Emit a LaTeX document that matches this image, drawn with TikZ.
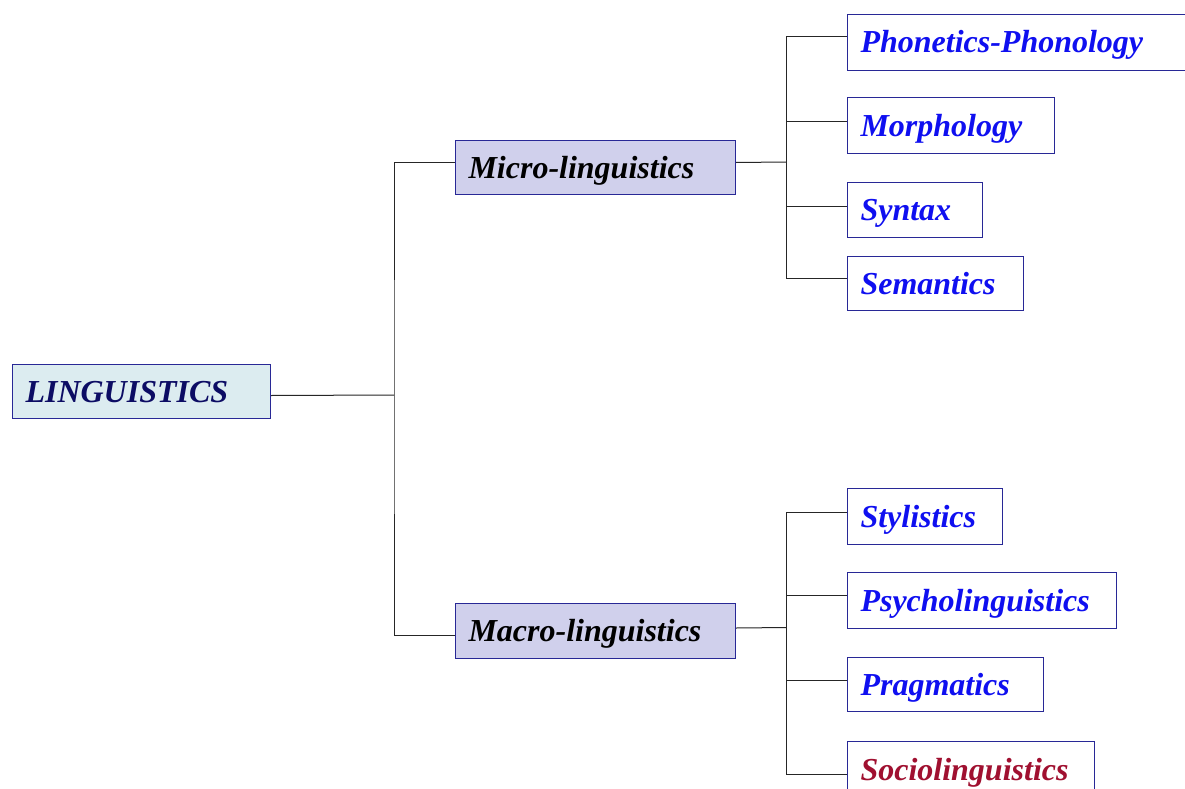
\documentclass[tikz,border=0pt]{standalone}
\usepackage{fontspec}
\setmainfont{Liberation Serif}
\definecolor{boxline}{RGB}{40,40,150}
\definecolor{lingfill}{RGB}{220,236,240}
\definecolor{midfill}{RGB}{208,208,236}
\definecolor{lingtext}{RGB}{12,12,100}
\definecolor{leaftext}{RGB}{15,15,240}
\definecolor{sociotext}{RGB}{160,16,48}
\begin{document}
\begin{tikzpicture}[x=1pt,y=-1pt,
  box/.style={draw=boxline,line width=1pt,anchor=north west,inner xsep=13pt,inner ysep=0pt,
    text height=22pt,text depth=1pt,
    align=left,font=\fontsize{32}{36}\selectfont\bfseries\itshape},
  leaf/.style={box,fill=white,text=leaftext},
  mid/.style={box,fill=midfill,text=black},
  conn/.style={draw=black!85,line width=1pt}]
\clip (0,0) rectangle (1185,789);
\fill[white] (0,0) rectangle (1185,789);
% root
\node[box,fill=lingfill,text=lingtext,minimum width=258pt,minimum height=54pt,text width=232pt] (ling) at (12,364) {LINGUISTICS};
% middle
\node[mid,minimum width=280pt,minimum height=54pt,text width=254pt] (micro) at (455,140) {Micro-linguistics};
\node[mid,minimum width=280pt,minimum height=55pt,text width=254pt] (macro) at (455,603) {Macro-linguistics};
% leaves
\node[leaf,minimum width=345pt,minimum height=56pt,text width=319pt] (phon) at (847,14) {Phonetics-Phonology};
\node[leaf,minimum width=207pt,minimum height=56pt,text width=181pt] (morph) at (847,97) {Morphology};
\node[leaf,minimum width=135pt,minimum height=55pt,text width=109pt] (syn) at (847,182) {Syntax};
\node[leaf,minimum width=176pt,minimum height=54pt,text width=150pt] (sem) at (847,256) {Semantics};
\node[leaf,minimum width=155pt,minimum height=56pt,text width=129pt] (sty) at (847,488) {Stylistics};
\node[leaf,minimum width=269pt,minimum height=56pt,text width=243pt] (psy) at (847,572) {Psycholinguistics};
\node[leaf,minimum width=196pt,minimum height=54pt,text width=170pt] (prag) at (847,657) {Pragmatics};
\node[leaf,text=sociotext,minimum width=247pt,minimum height=56pt,text width=221pt] (soc) at (847,741) {Sociolinguistics};
% junctions
\coordinate (j1) at (394,395);
\coordinate (j2) at (786,162);
\coordinate (j3) at (786,627.5);
% connectors
\draw[conn] ([yshift=-4pt]ling.east) -- (j1);
\draw[conn] ([yshift=5pt]micro.west) -| (j1) |- ([yshift=-4pt]macro.west);
\draw[conn] ([yshift=5pt]micro.east) -- (j2);
\draw[conn] ([yshift=6pt]phon.west) -| (j2) |- ([yshift=5pt]sem.west);
\draw[conn] ([yshift=4pt]morph.west) -- ([yshift=4pt]morph.west -| j2);
\draw[conn] ([yshift=4pt]syn.west) -- ([yshift=4pt]syn.west -| j2);
\draw[conn] ([yshift=3pt]macro.east) -- (j3);
\draw[conn] ([yshift=4pt]sty.west) -| (j3) |- ([yshift=-5pt]soc.west);
\draw[conn] ([yshift=5pt]psy.west) -- ([yshift=5pt]psy.west -| j3);
\draw[conn] ([yshift=4pt]prag.west) -- ([yshift=4pt]prag.west -| j3);
\end{tikzpicture}
\end{document}
